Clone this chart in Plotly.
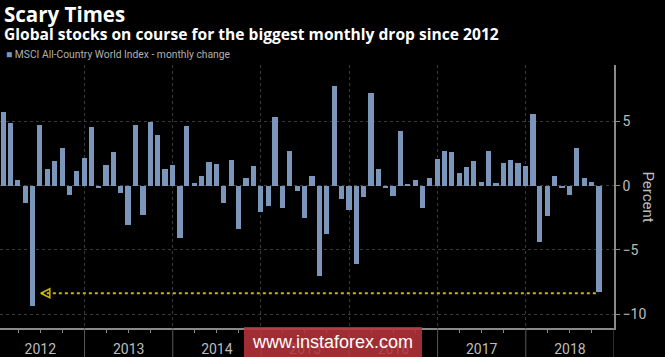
import calendar
import datetime as dt
import plotly.graph_objects as go

# ---- data ----
start_year = 2012
monthly_change = [
    5.70, 4.85, 0.41, -1.37, -9.33, 4.74, 1.27, 1.94, 2.95, -0.73, 1.11, 2.15,   # 2012
    4.53, -0.16, 1.58, 2.62, -0.60, -3.08, 4.69, -2.25, 4.95, 3.91, 1.27, 1.63,  # 2013
    -4.04, 4.64, 0.23, 0.75, 1.81, 1.71, -1.32, 2.02, -3.39, 0.62, 1.50, -2.02,  # 2014
    -1.61, 5.36, -1.74, 2.69, -0.39, -2.51, 0.78, -7.02, -3.78, 7.77, -1.01, -1.92,  # 2015
    -6.09, -0.88, 7.18, 1.30, -0.18, -0.83, 4.25, 0.13, 0.47, -1.74, 0.57, 2.05,  # 2016
    2.72, 2.62, 1.01, 1.42, 1.92, 0.26, 2.72, 0.18, 1.79, 2.02, 1.76, 1.50,      # 2017
    5.60, -4.35, -2.36, 0.78, -0.18, -0.70, 2.90, 0.57, 0.28, -8.29,             # 2018
]
year_labels = ["2012", "2013", "2014", "2015", "2016", "2017", "2018"]
y_ticks = [-10, -5, 0, 5]

title = "Scary Times"
subtitle = "Global stocks on course for the biggest monthly drop since 2012"
series_name = "MSCI All-Country World Index - monthly change"
y_title = "Percent"
watermark = "www.instaforex.com"

# month-end dates for each bar
dates = []
for i in range(len(monthly_change)):
    y = start_year + i // 12
    m = i % 12 + 1
    dates.append(dt.date(y, m, calendar.monthrange(y, m)[1]))

BAR = "#7b96bb"
GRID = "#3a3a3a"
AXIS = "#8a8a8a"
LABEL = "#bdbdbd"
NARROW = "Roboto, sans-serif"
BOLD = "Open Sans, Noto Sans, sans-serif"

fig = go.Figure()
fig.add_trace(go.Bar(
    x=dates, y=monthly_change, marker_color=BAR, marker_line_width=0,
    width=21.5 * 86400000, name=series_name, showlegend=False,
))

# arrow from the latest drop back to the 2012 low
min_idx = monthly_change.index(min(monthly_change))
head_x = dates[min_idx] + dt.timedelta(days=34)
tail_x = dates[-1]
arrow_y = monthly_change[-1] - 0.08
fig.add_trace(go.Scatter(
    x=[head_x, tail_x], y=[arrow_y, arrow_y], mode="lines",
    line=dict(color="#c8b800", width=2, dash="dot"), showlegend=False, hoverinfo="skip",
))
fig.add_trace(go.Scatter(
    x=[head_x], y=[arrow_y], mode="markers",
    marker=dict(symbol="arrow-left-open", size=9, color="#c8b800", line=dict(color="#c8b800", width=1.5)),
    showlegend=False, hoverinfo="skip",
))

# year dividers below the axis
for k in range(1, len(year_labels) + 1):
    xd = dt.date(start_year + k, 1, 1)
    fig.add_shape(type="line", xref="x", yref="paper", x0=xd, x1=xd, y0=-0.12, y1=0,
                  line=dict(color="#5a5a5a", width=1))

# watermark
fig.add_shape(type="rect", xref="paper", yref="paper", x0=244 / 614, x1=422 / 614,
              y0=-30 / 263, y1=1 / 263, fillcolor="#b5333a", opacity=0.88,
              line_width=0, layer="above")
fig.add_annotation(text=watermark, xref="paper", yref="paper", x=332 / 614, y=-14 / 263,
                   xanchor="center", yanchor="middle", showarrow=False,
                   font=dict(family="Liberation Sans, Arial", size=18, color="#ffffff"))

# titles & legend
fig.add_annotation(text="<b>" + title + "</b>", xref="paper", yref="paper", x=2 / 614, y=1 + 51 / 263,
                   xanchor="left", yanchor="middle", showarrow=False,
                   font=dict(family=BOLD, size=20.5, color="#ffffff"))
fig.add_annotation(text="<b>" + subtitle + "</b>", xref="paper", yref="paper", x=2 / 614, y=1 + 31 / 263,
                   xanchor="left", yanchor="middle", showarrow=False,
                   font=dict(family=BOLD, size=15.6, color="#ffffff"))
fig.add_annotation(text='<span style="color:%s">■</span> %s' % (BAR, series_name),
                   xref="paper", yref="paper", x=4 / 614, y=1 + 10 / 263,
                   xanchor="left", yanchor="middle", showarrow=False,
                   font=dict(family=NARROW, size=10.3, color="#b0b0b0"))
fig.add_annotation(text=y_title, xref="paper", yref="paper", x=1 + 34 / 614, y=0.5,
                   xanchor="center", yanchor="middle", showarrow=False, textangle=90,
                   font=dict(family=NARROW, size=15, color=LABEL))

fig.update_layout(
    width=665, height=357,
    margin=dict(l=0, r=51, t=65, b=29, autoexpand=False),
    paper_bgcolor="#000000", plot_bgcolor="#000000",
    bargap=0, showlegend=False,
    xaxis=dict(
        type="date", range=["2012-01-17", "2019-01-01"], automargin=False,
        tick0="2012-01-01", dtick="M12", ticklabelmode="period",
        tickformat="%Y", ticks="", ticklabelstandoff=7,
        showgrid=True, gridcolor=GRID, griddash="dot", gridwidth=1,
        showline=True, linecolor=AXIS, linewidth=1.5,
        tickfont=dict(family=NARROW, size=14, color=LABEL),
        minor=dict(dtick="M3", tick0="2012-01-01", ticks="outside", ticklen=3,
                   tickcolor=AXIS, showgrid=False),
        zeroline=False,
    ),
    yaxis=dict(
        side="right", range=[-11.07, 9.39], tickvals=y_ticks, automargin=False,
        ticks="outside", ticklen=4, tickcolor=AXIS,
        showgrid=True, gridcolor=GRID, griddash="dot", gridwidth=1,
        showline=True, linecolor=AXIS, linewidth=1.5, zeroline=False,
        tickfont=dict(family=NARROW, size=14, color=LABEL),
    ),
)

fig.write_html("out.html", config={"displayModeBar": False},
               post_script="document.body.style.margin='0';document.body.style.background='#000';")
